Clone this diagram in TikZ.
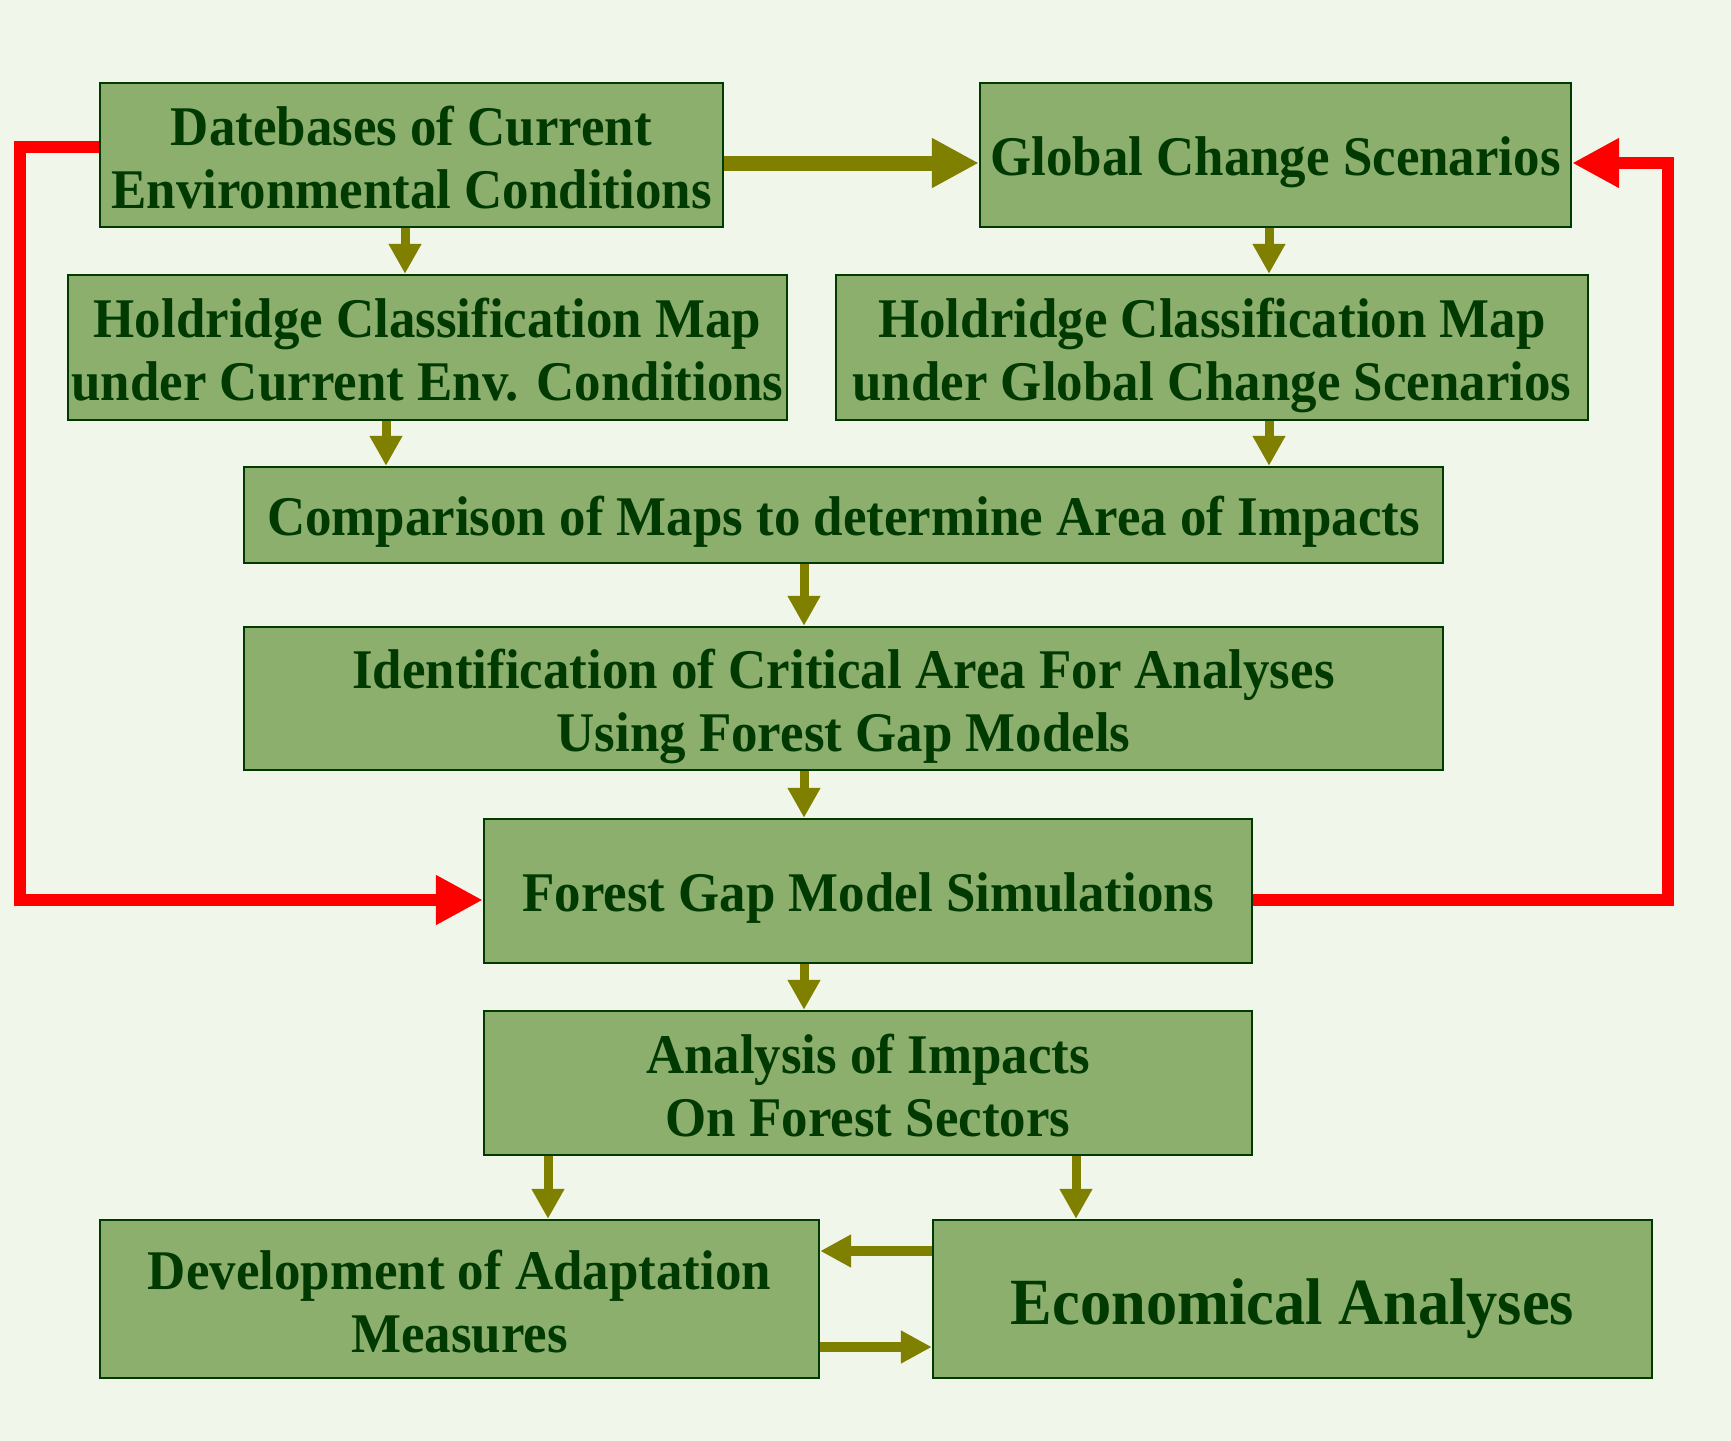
\documentclass[tikz,border=0pt]{standalone}
\usepackage{fontspec}
\setmainfont{Liberation Serif}[FakeStretch=0.945]
\usepackage{xcolor}
\usetikzlibrary{arrows.meta}
\definecolor{bgcol}{HTML}{F1F6EA}
\definecolor{boxcol}{HTML}{8CAF6E}
\definecolor{txtcol}{HTML}{003A00}
\definecolor{olivecol}{HTML}{808000}

\begin{document}
\begin{tikzpicture}
            [x=0.5pt, y=-0.5pt,
            box/.style={draw=txtcol, line width=1.2pt, fill=boxcol, text=txtcol, rectangle, align=center,
                inner sep=0pt, font=\fontsize{28}{31.5}\selectfont\bfseries, text height=20pt, text depth=0pt},
            twoline/.style={text height=53pt, text depth=0pt},
            arr/.style={draw=olivecol, line width=4.5pt, -{Triangle[length=15pt,width=15.5pt]}},
            sidearr/.style={draw=olivecol, line width=5pt, -{Triangle[length=15.5pt,width=15.5pt]}},
            bigarr/.style={draw=olivecol, line width=7.5pt, -{Triangle[length=23.5pt,width=23.5pt]}},
            redarr/.style={draw=red, line width=6pt, -{Triangle[length=23.5pt,width=23.5pt]}}]

            \fill[bgcol] (0,0) rectangle (1731,1441);
            \useasboundingbox (0,0) rectangle (1731,1441);

            \node[box, twoline, minimum width=311.5pt, minimum height=72pt] (db) at (411.5,155)
                {Datebases of Current\\Environmental Conditions};
            \node[box, minimum width=295.5pt, minimum height=72pt] (gcs) at (1275.5,155)
                {Global Change Scenarios};
            \node[box, twoline, minimum width=359.5pt, minimum height=72.5pt] (hcur) at (427.5,347.5)
                {Holdridge Classification Map\\under Current Env. Conditions};
            \node[box, twoline, minimum width=376pt, minimum height=72.5pt] (hgcs) at (1212,347.5)
                {Holdridge Classification Map\\under Global Change Scenarios};
            \node[box, minimum width=599.5pt, minimum height=48pt] (comp) at (843.5,515)
                {Comparison of Maps to determine Area of Impacts};
            \node[box, twoline, minimum width=599.5pt, minimum height=71.5pt] (ident) at (843.5,698.5)
                {Identification of Critical Area For Analyses\\Using Forest Gap Models};
            \node[box, minimum width=384pt, minimum height=72pt] (sim) at (868,891)
                {Forest Gap Model Simulations};
            \node[box, twoline, minimum width=384pt, minimum height=72pt] (anal) at (868,1083)
                {Analysis of Impacts\\On Forest Sectors};
            \node[box, twoline, minimum width=359.5pt, minimum height=79pt] (dev) at (459.5,1299)
                {Development of Adaptation\\Measures};
            \node[box, minimum width=359.5pt, minimum height=79pt, font=\fontsize{33}{37}\selectfont\bfseries,
                text height=25.8pt] (econ) at (1292.5,1299)
                {Economical Analyses};

            \coordinate (ltop) at (20,147);
            \coordinate (rtop) at (1668,163);

            \draw[bigarr] ([yshift=-4pt]db.east) -- ([yshift=-4pt]gcs.west);
            \draw[redarr] ([yshift=4pt]db.west) -- (ltop) |- ([yshift=-4.5pt]sim.west);
            \draw[redarr] ([yshift=-4.5pt]sim.east) -| (rtop) -- ([yshift=-4pt]gcs.east);

            \draw[arr] ([xshift=-3.25pt]db.south) -- ([xshift=-3.25pt]db.south |- hcur.north);
            \draw[arr] ([xshift=-3.25pt]gcs.south) -- ([xshift=-3.25pt]gcs.south |- hgcs.north);
            \draw[arr] ([xshift=-20.75pt]hcur.south) -- ([xshift=-20.75pt]hcur.south |- comp.north);
            \draw[arr] ([xshift=28.5pt]hgcs.south) -- ([xshift=28.5pt]hgcs.south |- comp.north);
            \draw[arr] ([xshift=-19.75pt]comp.south) -- ([xshift=-19.75pt]comp.south |- ident.north);
            \draw[arr] ([xshift=-19.75pt]ident.south) -- ([xshift=-19.75pt]ident.south |- sim.north);
            \draw[arr] ([xshift=-32pt]sim.south) -- ([xshift=-32pt]sim.south |- anal.north);
            \draw[arr] ([xshift=-160pt]anal.south) -- ([xshift=-160pt]anal.south |- dev.north);
            \draw[arr] ([xshift=104pt]anal.south) -- ([xshift=104pt]anal.south |- econ.north);

            \draw[sidearr] ([yshift=24pt]econ.west) -- ([yshift=24pt]econ.west -| dev.east);
            \draw[sidearr] ([yshift=-24pt]dev.east) -- ([yshift=-24pt]dev.east -| econ.west);
        \end{tikzpicture}
\end{document}
